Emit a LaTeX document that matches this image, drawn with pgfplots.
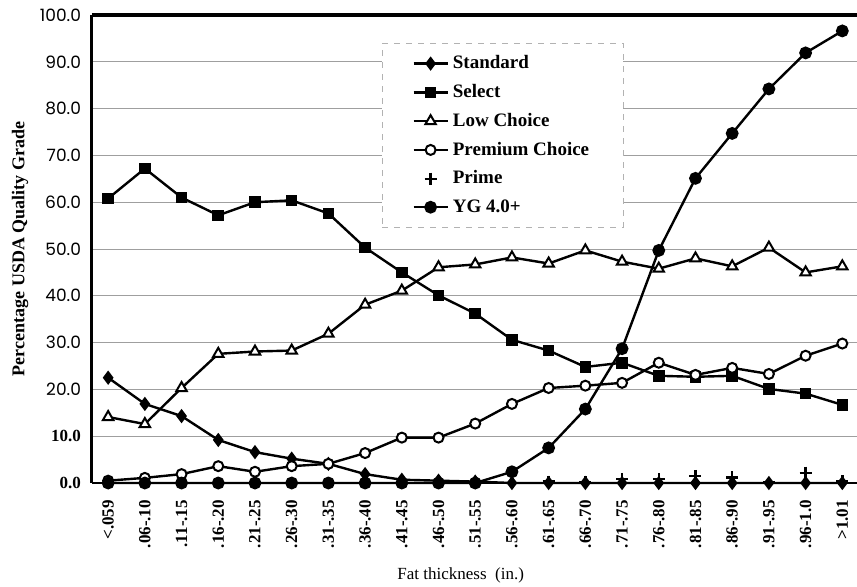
\documentclass[border=0pt]{standalone}
\usepackage{pgfplots}
\pgfplotsset{compat=1.18}
\usepackage{fontspec}
\setmainfont{Liberation Serif}
\newfontfamily\ticksans{Poppins}

\pgfplotstableread{
x std sel low prem prime yg
0  22.5 60.8 14.1 0.5  0.0 0
1  16.9 67.2 12.6 1.1  0.0 0
2  14.3 61.0 20.3 1.9  0.0 0
3  9.2  57.2 27.6 3.6  0.0 0
4  6.6  60.0 28.1 2.4  0.0 0
5  5.2  60.4 28.3 3.6  0.0 0
6  4.1  57.6 31.9 4.1  0.0 0
7  1.9  50.3 38.1 6.4  0.0 0
8  0.7  45.0 41.1 9.7  0.0 0
9  0.5  40.1 46.1 9.7  0.0 0
10 0.3  36.2 46.7 12.7 0.0 0
11 0.0  30.6 48.2 16.9 0.0 2.4
12 0.0  28.3 46.9 20.3 0.3 7.5
13 0.0  24.8 49.7 20.8 0.2 15.8
14 0.0  25.7 47.3 21.4 0.9 28.7
15 0.0  22.9 45.8 25.7 0.8 49.7
16 0.0  22.7 48.0 23.1 1.5 65.1
17 0.0  22.9 46.3 24.6 1.2 74.7
18 0.0  20.1 50.3 23.3 0.1 84.2
19 0.0  19.1 45.0 27.2 2.2 91.9
20 0.0  16.7 46.3 29.8 0.4 96.6
}\datatable

\begin{document}
\begin{tikzpicture}
\begin{axis}[
  at={(0,0)}, anchor=south west,
  scale only axis, width=382.5pt, height=234pt,
  xmin=-0.44, xmax=20.4, ymin=0, ymax=100,
  clip=false,
  axis line style={draw=none},
  tick style={draw=none},
  ymajorgrids, grid style={gray!75, line width=0.5pt},
  ytick={0,10,...,100},
  yticklabels={{\rmfamily\bfseries 0.0},{\rmfamily\bfseries 10.0},20.0,30.0,40.0,50.0,60.0,70.0,80.0,90.0,100.0},
  yticklabel style={font=\ticksans\fontsize{8.5}{8.5}\selectfont, xshift=-2pt},
  xtick={0,...,20},
  xticklabels={{<.059},{.06-.10},{.11-.15},{.16-.20},{.21-.25},{.26-.30},{.31-.35},{.36-.40},{.41-.45},{.46-.50},{.51-.55},{.56-.60},{.61-.65},{.66-.70},{.71-.75},{.76-.80},{.81-.85},{.86-.90},{.91-.95},{.96-1.0},{>1.01}},
  xticklabel style={rotate=90, anchor=east, font=\bfseries\fontsize{8.5}{8.5}\selectfont, xshift=-5pt},
  xlabel={Fat thickness\ \ (in.)},
  xlabel style={at={(axis description cs:0.482,-0.197)}, anchor=center, font=\fontsize{8.5}{8.5}\selectfont},
  ylabel={Percentage USDA Quality Grade},
  ylabel style={at={(axis description cs:-0.094,0.5)}, anchor=center, font=\bfseries\fontsize{9}{9}\selectfont},
  legend style={at={(0.379,0.940)}, anchor=north west, draw=gray!60, dashed,
    font=\bfseries\fontsize{9.5}{9.5}\selectfont, row sep=2.3pt, inner xsep=15pt, inner ysep=4pt,
    nodes={solid}},
  legend cell align=left,
  every axis plot/.append style={line width=1.2pt, black},
]
\addplot[mark=diamond*, mark size=2.6pt, mark options={solid}] table[x=x, y=std] {\datatable};
\addlegendentry{\makebox[66pt][l]{Standard}}
\addplot[mark=square*, mark size=2.3pt, mark options={solid}] table[x=x, y=sel] {\datatable};
\addlegendentry{Select}
\addplot[mark=triangle*, mark size=3pt, mark options={solid, fill=white, line width=1pt}] table[x=x, y=low] {\datatable};
\addlegendentry{Low Choice}
\addplot[mark=*, mark size=2.5pt, mark options={solid, fill=white, line width=1pt}] table[x=x, y=prem] {\datatable};
\addlegendentry{Premium Choice}
\addplot[only marks, mark=+, mark size=3pt, mark options={line width=1.2pt}] table[x=x, y=prime] {\datatable};
\addlegendentry{Prime}
\addplot[mark=*, mark size=2.6pt, mark options={solid}] table[x=x, y=yg] {\datatable};
\addlegendentry{YG 4.0+}
\draw[line width=1.5pt] (rel axis cs:0,0) -- (rel axis cs:0,1);
\draw[line width=2pt] (rel axis cs:0,1) -- (rel axis cs:1,1);
\draw[line width=0.8pt] (rel axis cs:0,0) -- (rel axis cs:1,0);
\end{axis}
\pgfresetboundingbox
\path[use as bounding box] (-46pt,-51.5pt) rectangle (382.5pt,241.5pt);
\end{tikzpicture}
\end{document}
